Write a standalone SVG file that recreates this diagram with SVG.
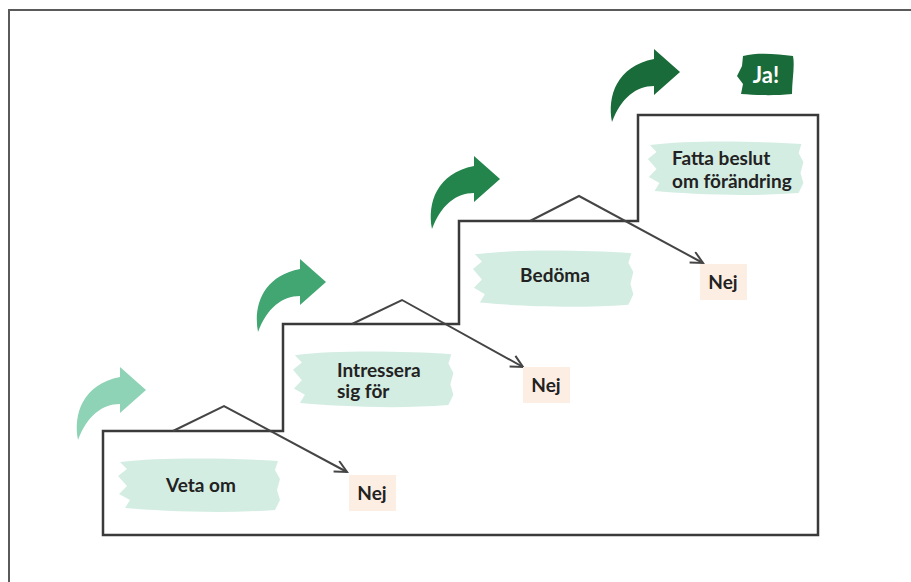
<svg xmlns="http://www.w3.org/2000/svg" width="911" height="582" viewBox="0 0 911 582">
<style>
.lbl{font-family:Lato,"Open Sans","Liberation Sans",sans-serif;font-weight:bold;font-size:19px;fill:#222222}
.nejbox{fill:#fdeee4}
.band{fill:#d4ede3}
.roof{fill:none;stroke:#454545;stroke-width:2;stroke-linejoin:miter}
.stair{fill:none;stroke:#3a3a3a;stroke-width:2.5;stroke-linejoin:miter}
</style>
<defs>
<path id="band" d="M5,5 C45,0 115,1 163,4 L160,13 L165,22 L162,33 L165,43 L160,53 C105,57 45,54 10,51 L15,43 L4,37 L12,29 L3,19 L12,12 Z"/>
<path id="curl" d="M0,0 C-5,-26 5,-56 42,-63 L42,-73 L68,-50 L42,-27 L42,-36 C24,-36 9,-24 0,0 Z"/>
<marker id="chev" markerUnits="userSpaceOnUse" markerWidth="16" markerHeight="16" refX="13" refY="7" orient="auto">
<path d="M1,1 L13,7 L1,13" fill="none" stroke="#454545" stroke-width="2"/>
</marker>
</defs>
<rect width="911" height="582" fill="#ffffff"/>
<path d="M9,582 L9,10 L911,10" fill="none" stroke="#5a5a5a" stroke-width="2"/>
<path id="stairs" class="stair" d="M103,535 L103,431 L283,431 L283,324 L459,324 L459,221 L638,221 L638,115 L818,115 L818,535 Z"/>
<g id="connectors">
<path class="roof" d="M173,431 L224,406 L347,472" marker-end="url(#chev)"/>
<path class="roof" d="M352,324 L402,300 L523,367" marker-end="url(#chev)"/>
<path class="roof" d="M530,221 L579,196 L703,263" marker-end="url(#chev)"/>
</g>
<g id="arrow1"><use href="#curl" transform="translate(78,440)" fill="#8fd3b7"/></g>
<g id="arrow2"><use href="#curl" transform="translate(258,332)" fill="#41a672"/></g>
<g id="arrow3"><use href="#curl" transform="translate(432,229)" fill="#23844c"/></g>
<g id="arrow4"><use href="#curl" transform="translate(612,122)" fill="#1a6b3a"/></g>
<g id="veta-om">
<use href="#band" class="band" transform="translate(115,457)"/>
<text class="lbl" x="201" y="492" text-anchor="middle">Veta om</text>
</g>
<g id="intressera">
<use href="#band" class="band" transform="translate(290,350) scale(0.99,1.04)"/>
<text class="lbl" x="337" y="377">Intressera</text>
<text class="lbl" x="337" y="398">sig för</text>
</g>
<g id="bedoma">
<use href="#band" class="band" transform="translate(470,249) scale(0.99,1.05)"/>
<text class="lbl" x="555" y="282" text-anchor="middle">Bedöma</text>
</g>
<g id="fatta">
<use href="#band" class="band" transform="translate(645,140) scale(0.96,1)"/>
<text class="lbl" x="672" y="165">Fatta beslut</text>
<text class="lbl" x="672" y="188">om förändring</text>
</g>
<g id="nej1">
<rect class="nejbox" x="349" y="475" width="47" height="36"/>
<text class="lbl" x="372" y="500" text-anchor="middle">Nej</text>
</g>
<g id="nej2">
<rect class="nejbox" x="523" y="367" width="47" height="36"/>
<text class="lbl" x="546" y="392" text-anchor="middle">Nej</text>
</g>
<g id="nej3">
<rect class="nejbox" x="700" y="264" width="47" height="36"/>
<text class="lbl" x="723" y="289" text-anchor="middle">Nej</text>
</g>
<g id="ja">
<path d="M743,56 C758,52 778,54 793,56 C795,66 792,80 792,94 C772,96 755,95 741,94 L743,84 L737,76 L742,66 Z" fill="#1a6b3a"/>
<text x="766" y="83" text-anchor="middle" style="font-family:Lato,'Open Sans','Liberation Sans',sans-serif;font-weight:bold;font-size:22px;fill:#ffffff">Ja!</text>
</g>
</svg>
